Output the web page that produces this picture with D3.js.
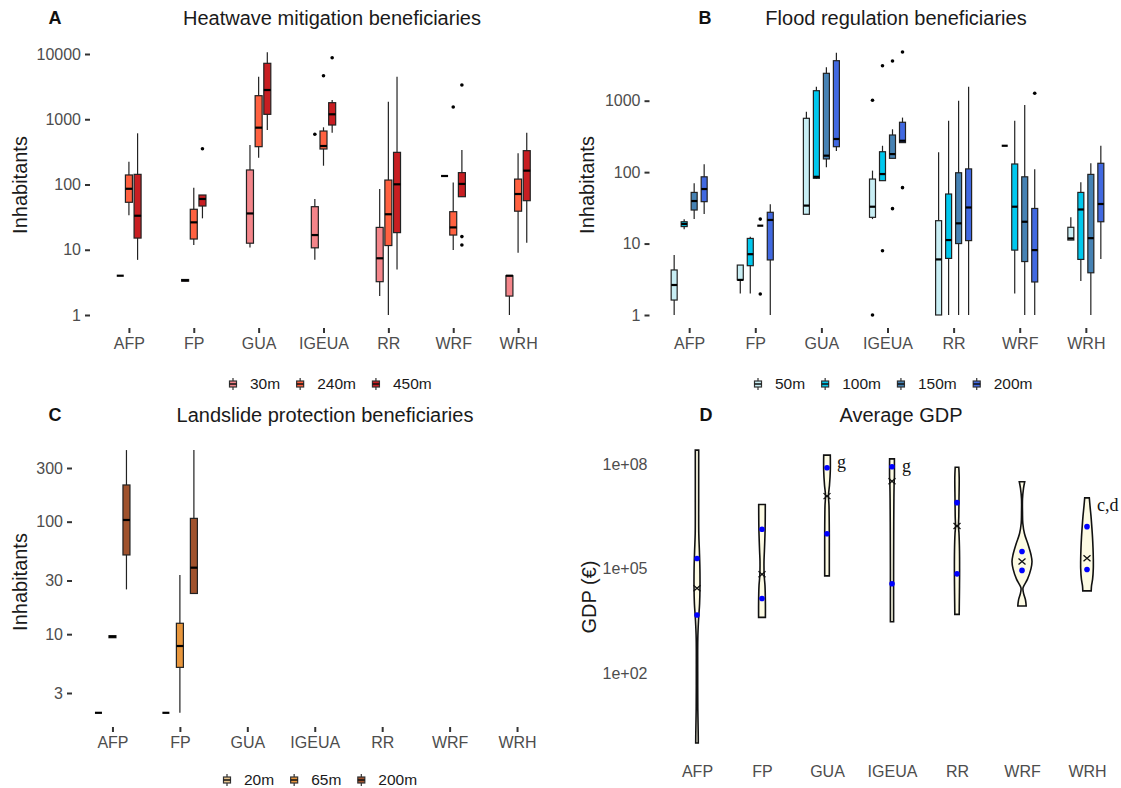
<!DOCTYPE html>
<html>
<head>
<meta charset="utf-8">
<script src="https://d3js.org/d3.v7.min.js"></script>
<style>
body { margin: 0; background: #fff; }
svg { display: block; font-family: "Liberation Sans", Arial, sans-serif; }
.axis text { fill: #4d4d4d; font-size: 16px; }
.axis line { stroke: #333; stroke-width: 2; }
.axis path { display: none; }
.title { font-size: 20px; fill: #1a1a1a; }
.tag { font-size: 18px; font-weight: bold; fill: #111; }
.ylab { font-size: 20px; fill: #1a1a1a; }
.legend text { font-size: 15.5px; fill: #1a1a1a; }
.note { font-family: "Liberation Serif", "Times New Roman", serif; font-size: 18px; fill: #111; }
</style>
</head>
<body>
<script>

// categories shared by all four panels
var categories = ["AFP", "FP", "GUA", "IGEUA", "RR", "WRF", "WRH"];

// A - heatwave mitigation, box stats [lo, q1, median, q3, hi] per category
var heatSeries = ["30m", "240m", "450m"];
var heat30  = [[4,4,4,4,4], [3.3,3.3,3.4,3.5,3.5], [10.8,12.6,36,167,403], [7,10.7,16.8,45.7,60], [1.95,3.24,7.4,22,85], [135,135,135,135,135], [1,1.95,4,4,4]];
var heat240 = [[33.7,53.4,86,140,224], [11.8,14.6,26.3,41.7,89], [258,380,743,2296,4490], [194,350,389,660,753], [1,11.6,35,117,1860], [9.9,16.8,22,38.3,107], [9,39,71.5,121,300]];
var heat450 = [[7,15.1,33.2,143,609], [30.3,46.8,60,69,69], [684,1190,2806,7200,10600], [622,816,1191,1794,1972], [5,18.3,100.7,311,4490], [65,65,102,152,338], [12.8,56.5,163,330,622]];
var heat30Out  = [[], [], [], [588], [], [], []];
var heat240Out = [[], [], [], [4650], [], [1540], []];
var heat450Out = [[], [354], [], [8770], [], [3350,15.9,11.8], []];

// B - flood regulation
var floodSeries = ["50m", "100m", "150m", "200m"];
var flood50  = [[1,1.62,2.63,4.27,6.9], [2,3.1,3.1,5,5], [25.7,25.7,34,567,703], [22,23.3,32.8,80,105], [1,1,6,20.9,190], [234,234,234,234,234], [11.2,11.2,11.8,16.9,23.3]];
var flood100 = [[15.9,17.3,18.8,20.2,21.9], [2,4.9,7.1,11.8,12.5], [80,82,86,1380,1570], [76,76,94,193,234], [1,6.2,11.2,49.4,525], [2,8.1,32.8,130,525], [3,6,30,52,72]];
var flood150 = [[22,29.5,39.4,52,70], [17.8,17.8,17.8,17.8,17.8], [117,153,170,2417,2930], [156,156,179,331,398], [1,10,19.2,98,1000], [1,5.6,20.2,86,870], [1,3.9,11.9,93,133]];
var flood200 = [[26,38.6,58,86,129], [1,5.9,21.4,27.4,35.5], [198,227,291,3630,4700], [259,259,275,499,580], [1,11,32,111,1570], [1,2.9,8.1,31,110], [6.1,20.2,35.8,133,234]];
var flood50Out  = [[], [], [], [1014,1], [], [], []];
var flood100Out = [[], [], [], [3090,7.95], [], [], []];
var flood150Out = [[], [22,1.97], [], [3600,30.8], [], [], []];
var flood200Out = [[], [], [], [4810,60.6], [], [1270], []];

// C - landslide protection (only AFP and FP have data)
var landSeries = ["20m", "65m", "200m"];
var land20  = [[2,2,2,2,2], [2,2,2,2,2], null, null, null, null, null];
var land65  = [[9.3,9.3,9.5,9.7,9.7], [2,5.07,7.85,12.5,33.6], null, null, null, null, null];
var land200 = [[25,50.6,103.5,212,433], [23,23,39,107,433], null, null, null, null, null];

// D - average GDP, violin outlines as [GDP, density]
var gdpAFP   = [[2.5e8,1.7],[1e7,1.7],[1e6,1.8],[3.2e5,2.4],[1e5,2.9],[3.2e4,3.0],[1e4,2.6],[3.2e3,1.5],[1e3,0.8],[100,0.7],[10,0.8],[2,1.2],[1,1.3]];
var gdpFP    = [[6.9e6,3.3],[2e6,3.2],[1e6,3.0],[3.2e5,2.4],[1.6e5,2.0],[6.3e4,2.2],[3.2e4,3.0],[1e4,3.4],[4e3,3.4]];
var gdpGUA   = [[1.8e8,3.3],[6.3e7,3.3],[2.5e7,2.5],[1.25e7,1.5],[6.3e6,2.0],[1e6,2.3],[3.2e5,2.3],[6.2e4,2.3]];
var gdpIGEUA = [[1.4e8,2.4],[4e7,2.4],[3.2e7,2.2],[1e7,1.9],[1e6,1.7],[1e5,1.6],[1e4,1.6],[3e3,1.6]];
var gdpRR    = [[8.1e7,1.8],[4e7,2.2],[1e7,2.0],[3.2e6,1.8],[1.6e6,1.5],[1e6,2.0],[3.2e5,2.5],[1e5,2.6],[3.2e4,2.5],[1e4,2.3],[4.9e3,2.2]];
var gdpWRF   = [[3.1e7,2.7],[2e7,1.5],[1e7,0.5],[4e6,0.5],[2e6,0.8],[1e6,2.5],[5e5,6],[2.5e5,9],[1.6e5,10],[1e5,9],[5e4,5.5],[2.8e4,1],[2e4,1.5],[1.26e4,3.5],[8.5e3,4.2]];
var gdpWRH   = [[1.07e7,2.3],[6.3e6,3.0],[3.2e6,4.0],[1.6e6,4.8],[8e5,5.5],[4e5,6.0],[2e5,6.3],[1e5,6.3],[5e4,5.6],[3.2e4,4.5],[2.3e4,4.2]];
var gdpViolins = [gdpAFP, gdpFP, gdpGUA, gdpIGEUA, gdpRR, gdpWRF, gdpWRH];
var gdpQuartiles = [[1.95e5,4.7e3], [1.35e6,1.4e4], [7.8e7,1e6], [8.3e7,3.7e4], [7.8e6,7.1e4], [3.1e5,8.9e4], [1.6e6,9.5e4]];
var gdpMedians = [2.75e4, 6.9e4, 1.2e7, 3.2e7, 1.66e6, 1.6e5, 2e5];
var gdpNotes = ["", "", "g", "g", "", "", "c,d"];


var svg = d3.select("body").append("svg")
    .attr("width", 1121)
    .attr("height", 788);

function header(title, tx, ty, tag, tagX, ylab, lx, ly) {
    svg.append("text").attr("class", "title")
        .attr("x", tx).attr("y", ty).attr("text-anchor", "middle").attr("dy", "0.35em")
        .text(title);
    svg.append("text").attr("class", "tag")
        .attr("x", tagX).attr("y", ty).attr("text-anchor", "middle").attr("dy", "0.35em")
        .text(tag);
    svg.append("text").attr("class", "ylab")
        .attr("transform", "translate(" + lx + "," + ly + ") rotate(-90)")
        .attr("text-anchor", "middle").attr("dy", "0.35em")
        .text(ylab);
}

function legend(x0, y0, series, colors) {
    var g = svg.append("g").attr("class", "legend");
    var cursor = x0;
    series.forEach(function(s, i) {
        var item = g.append("g").attr("transform", "translate(" + cursor + "," + y0 + ")");
        item.append("line").attr("y1", -6).attr("y2", 6).style("stroke", "#333").style("stroke-width", 1.2);
        item.append("rect").attr("x", -3.5).attr("y", -3).attr("width", 7).attr("height", 6)
            .style("fill", colors[i]).style("stroke", "#333").style("stroke-width", 1.2);
        item.append("line").attr("x1", -3.5).attr("x2", 3.5).style("stroke", "#111").style("stroke-width", 1.5);
        var t = item.append("text").attr("x", 17).attr("dy", "0.35em").text(s);
        cursor += 17 + t.node().getComputedTextLength() + 20;
    });
}

function boxPanel(p) {
    var x = d3.scalePoint().domain(categories).range([p.left, p.right]).padding(0.6);
    var y = d3.scaleLog().domain(p.domain).range(p.yRange);
    var dodge = d3.scaleBand().domain(p.series).range([-p.dodge, p.dodge]);

    svg.append("g").attr("class", "axis")
        .attr("transform", "translate(" + p.left + ",0)")
        .call(d3.axisLeft(y).tickValues(p.ticks).tickFormat(d3.format("d")).tickSize(5).tickPadding(4));

    svg.append("g").attr("class", "axis")
        .attr("transform", "translate(0," + p.axisY + ")")
        .call(d3.axisBottom(x).tickSize(5).tickPadding(5));

    p.series.forEach(function(s, j) {
        var g = svg.append("g");
        p.stats[j].forEach(function(st, i) {
            if (!st) return;
            var cx = x(categories[i]) + dodge(s) + dodge.bandwidth() / 2;
            var w = p.boxW;

            g.append("line")
                .attr("x1", cx).attr("x2", cx).attr("y1", y(st[0])).attr("y2", y(st[4]))
                .style("stroke", "#222").style("stroke-width", 1.2);
            g.append("rect")
                .attr("x", cx - w / 2).attr("y", y(st[3]))
                .attr("width", w).attr("height", y(st[1]) - y(st[3]))
                .style("fill", p.colors[j]).style("stroke", "#222").style("stroke-width", 1.2);
            g.append("line")
                .attr("x1", cx - w / 2).attr("x2", cx + w / 2).attr("y1", y(st[2])).attr("y2", y(st[2]))
                .style("stroke", "#000").style("stroke-width", 2.2);

            if (p.outliers) {
                p.outliers[j][i].forEach(function(v) {
                    g.append("circle").attr("cx", cx).attr("cy", y(v)).attr("r", 1.8).style("fill", "#000");
                });
            }
        });
    });

    header(p.title, p.titleX, p.titleY, p.tag, p.tagX, "Inhabitants", p.ylabX, p.ylabY);
    legend(p.legendX, p.legendY, p.series, p.colors);
}

boxPanel({
    left: 90, right: 557, yRange: [315, 54], domain: [1, 10000], axisY: 328,
    ticks: [1, 10, 100, 1000, 10000],
    series: heatSeries, stats: [heat30, heat240, heat450], outliers: [heat30Out, heat240Out, heat450Out],
    colors: ["#F4858A", "#FF6140", "#C81E22"], dodge: 13, boxW: 7,
    title: "Heatwave mitigation beneficiaries", titleX: 332, titleY: 18, tag: "A", tagX: 55,
    ylabX: 20, ylabY: 185, legendX: 233, legendY: 384
});

boxPanel({
    left: 649.5, right: 1125.5, yRange: [315, 100.7], domain: [1, 1000], axisY: 328,
    ticks: [1, 10, 100, 1000],
    series: floodSeries, stats: [flood50, flood100, flood150, flood200], outliers: [flood50Out, flood100Out, flood150Out, flood200Out],
    colors: ["#C8EEF4", "#00C8EE", "#4682B4", "#4169E1"], dodge: 20, boxW: 6,
    title: "Flood regulation beneficiaries", titleX: 896, titleY: 18, tag: "B", tagX: 705,
    ylabX: 587, ylabY: 185, legendX: 758, legendY: 384
});

boxPanel({
    left: 72, right: 557.5, yRange: [693, 468], domain: [3, 300], axisY: 727,
    ticks: [3, 10, 30, 100, 300],
    series: landSeries, stats: [land20, land65, land200], outliers: null,
    colors: ["#E8C58E", "#E8963C", "#A0522D"], dodge: 21, boxW: 7,
    title: "Landslide protection beneficiaries", titleX: 325, titleY: 415, tag: "C", tagX: 55,
    ylabX: 20, ylabY: 582, legendX: 227, legendY: 780
});

// D - violins
(function() {
    var left = 658, right = 1126;
    var x = d3.scalePoint().domain(categories).range([left, right]).padding(0.6);
    var y = d3.scaleLog().domain([100, 1e8]).range([673.3, 464]);
    var w = d3.scaleLinear().domain([0, 10]).range([0, 10]);

    svg.append("g").attr("class", "axis")
        .attr("transform", "translate(" + left + ",0)")
        .call(d3.axisLeft(y).tickValues([1e2, 1e5, 1e8])
            .tickFormat(function(v) { return "1e+" + d3.format("02d")(Math.round(Math.log10(v))) })
            .tickSize(0).tickPadding(10.5));

    svg.append("g").attr("class", "axis")
        .attr("transform", "translate(0,760)")
        .call(d3.axisBottom(x).tickSize(0).tickPadding(6));

    gdpViolins.forEach(function(prof, i) {
        var cx = x(categories[i]);
        var area = d3.area()
            .curve(d3.curveCatmullRom)
            .y(function(d) { return y(d[0]) })
            .x0(function(d) { return cx - w(d[1]) })
            .x1(function(d) { return cx + w(d[1]) });

        svg.append("path").datum(prof)
            .attr("d", area)
            .style("fill", "#FDFBE4").style("stroke", "#111").style("stroke-width", 1.6);

        var my = y(gdpMedians[i]);
        svg.append("path")
            .attr("d", "M" + (cx - 3.5) + "," + (my - 3) + "L" + (cx + 3.5) + "," + (my + 3) +
                       "M" + (cx - 3.5) + "," + (my + 3) + "L" + (cx + 3.5) + "," + (my - 3))
            .style("stroke", "#111").style("stroke-width", 1.3).style("fill", "none");

        gdpQuartiles[i].forEach(function(v) {
            svg.append("circle").attr("cx", cx).attr("cy", y(v)).attr("r", 2.8).style("fill", "#0000FF");
        });

        if (gdpNotes[i]) {
            svg.append("text").attr("class", "note")
                .attr("x", cx + 10).attr("y", y(prof[0][0]) + 7).attr("dy", "0.35em")
                .text(gdpNotes[i]);
        }
    });

    header("Average GDP", 901, 415, "D", 706, "GDP (\u20AC)", 589, 597);
})();

</script>
</body>
</html>
